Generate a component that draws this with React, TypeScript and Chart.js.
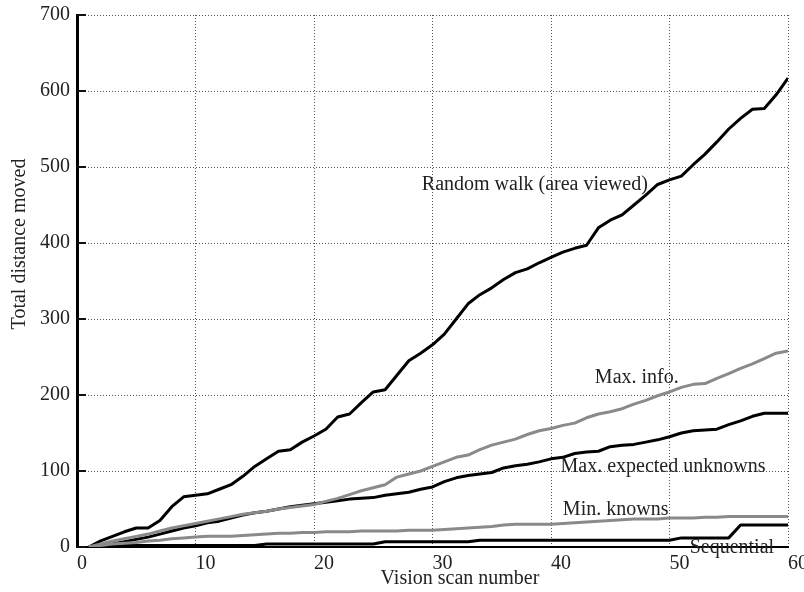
import React, { useEffect, useRef } from "react";
import { Chart, registerables } from "chart.js";

Chart.register(...registerables);

const scanNumbers = [
  1, 2, 3, 4, 5, 6, 7, 8, 9, 10, 11, 12, 13, 14, 15, 16, 17, 18, 19, 20,
  21, 22, 23, 24, 25, 26, 27, 28, 29, 30, 31, 32, 33, 34, 35, 36, 37, 38, 39, 40,
  41, 42, 43, 44, 45, 46, 47, 48, 49, 50, 51, 52, 53, 54, 55, 56, 57, 58, 59, 60,
];

const randomWalk = [
  0, 8, 14, 20, 25, 25, 35, 53, 66, 68,
  70, 76, 82, 93, 106, 116, 126, 128, 138, 146,
  155, 171, 175, 190, 204, 207, 226, 245, 255, 266,
  280, 300, 320, 332, 341, 352, 361, 366, 374, 381,
  388, 393, 397, 420, 430, 437, 450, 463, 477, 483,
  488, 503, 517, 533, 550, 564, 576, 577, 595, 617,
];

const maxInfo = [
  0, 4, 8, 11, 14, 17, 21, 25, 28, 31,
  34, 37, 40, 43, 45, 47, 50, 52, 54, 56,
  60, 64, 69, 74, 78, 82, 92, 96, 100, 106,
  112, 118, 121, 128, 134, 138, 142, 148, 153, 156,
  160, 163, 170, 175, 178, 182, 188, 193, 199, 204,
  210, 214, 215, 222, 228, 235, 241, 248, 255, 258,
];

const maxExpectedUnknowns = [
  0, 2, 4, 7, 10, 13, 17, 21, 25, 28,
  32, 34, 38, 42, 45, 47, 50, 53, 55, 57,
  59, 61, 63, 64, 65, 68, 70, 72, 76, 79,
  86, 91, 94, 96, 98, 104, 107, 109, 112, 116,
  118, 123, 125, 126, 132, 134, 135, 138, 141, 145,
  150, 153, 154, 155, 161, 166, 172, 176, 176, 176,
];

const minKnowns = [
  0, 2, 4, 5, 6, 8, 9, 11, 12, 13,
  14, 14, 14, 15, 16, 17, 18, 18, 19, 19,
  20, 20, 20, 21, 21, 21, 21, 22, 22, 22,
  23, 24, 25, 26, 27, 29, 30, 30, 30, 30,
  31, 32, 33, 34, 35, 36, 37, 37, 37, 38,
  38, 38, 39, 39, 40, 40, 40, 40, 40, 40,
];

const sequential = [
  0, 0, 1, 2, 2, 2, 2, 2, 2, 2,
  2, 2, 2, 2, 2, 4, 4, 4, 4, 4,
  4, 4, 4, 4, 4, 7, 7, 7, 7, 7,
  7, 7, 7, 9, 9, 9, 9, 9, 9, 9,
  9, 9, 9, 9, 9, 9, 9, 9, 9, 9,
  12, 12, 12, 12, 12, 29, 29, 29, 29, 29,
];

const xTicks = [0, 10, 20, 30, 40, 50, 60];
const yTicks = [0, 100, 200, 300, 400, 500, 600, 700];

const xTitle = "Vision scan number";
const yTitle = "Total distance moved";

const seriesLabels = [
  { text: "Random walk (area viewed)", x: 29.1, y: 477 },
  { text: "Max. info.", x: 43.7, y: 223 },
  { text: "Max. expected unknowns", x: 40.8, y: 106 },
  { text: "Min. knowns", x: 41.0, y: 49 },
  { text: "Sequential", x: 51.7, y: -1.5 },
];

const FONT = '"Liberation Serif", "Times New Roman", Times, serif';
const BLACK = "#000000";
const GRAY = "#8a8a8a";

const toPoints = (values: number[]) =>
  scanNumbers.map((x, i) => ({ x, y: values[i] }));

const overlayPlugin = {
  id: "overlay",
  afterDraw(chart: any) {
    const { ctx, chartArea } = chart;
    const xs = chart.scales.x;
    const ys = chart.scales.y;
    ctx.save();
    // inward tick marks on the y axis
    ctx.strokeStyle = "#111";
    ctx.lineWidth = 2;
    yTicks.forEach((v) => {
      const py = ys.getPixelForValue(v);
      ctx.beginPath();
      ctx.moveTo(chartArea.left, py);
      ctx.lineTo(chartArea.left + 9, py);
      ctx.stroke();
    });
    // series labels
    ctx.fillStyle = "#222";
    ctx.font = `20px ${FONT}`;
    ctx.textBaseline = "middle";
    ctx.textAlign = "left";
    seriesLabels.forEach((a) => {
      ctx.fillText(a.text, xs.getPixelForValue(a.x), ys.getPixelForValue(a.y));
    });
    // axis titles
    ctx.textAlign = "center";
    ctx.fillText(xTitle, 460, 579);
    ctx.translate(20, 244);
    ctx.rotate(-Math.PI / 2);
    ctx.fillText(yTitle, 0, 0);
    ctx.restore();
  },
};

export default function App() {
  const canvasRef = useRef<HTMLCanvasElement | null>(null);

  useEffect(() => {
    const canvas = canvasRef.current;
    if (!canvas) return;
    const lineStyle = (color: string) => ({
      borderColor: color,
      backgroundColor: color,
      borderWidth: 3,
      pointRadius: 0,
      tension: 0,
      fill: false,
      borderJoinStyle: "round" as const,
    });
    const chart = new Chart(canvas, {
      type: "line",
      data: {
        datasets: [
          { label: "Max. info.", data: toPoints(maxInfo), ...lineStyle(GRAY) },
          { label: "Min. knowns", data: toPoints(minKnowns), ...lineStyle(GRAY) },
          { label: "Random walk (area viewed)", data: toPoints(randomWalk), ...lineStyle(BLACK) },
          { label: "Max. expected unknowns", data: toPoints(maxExpectedUnknowns), ...lineStyle(BLACK) },
          { label: "Sequential", data: toPoints(sequential), ...lineStyle(BLACK) },
        ],
      },
      options: {
        responsive: false,
        animation: false,
        devicePixelRatio: 1,
        layout: { padding: { top: 15, right: 16, left: 0, bottom: 0 } },
        plugins: {
          legend: { display: false },
          tooltip: { enabled: false },
        },
        scales: {
          x: {
            type: "linear",
            min: 0,
            max: 60,
            afterBuildTicks: (s: any) => {
              s.ticks = xTicks.map((value) => ({ value }));
            },
            afterFit: (s: any) => {
              s.height = 45;
              s.paddingLeft = 0;
              s.paddingRight = 0;
            },
            ticks: {
              align: "start",
              font: { family: FONT, size: 20 },
              color: "#222",
              padding: 5,
              maxRotation: 0,
            },
            grid: { color: "#555", lineWidth: 1, drawTicks: false },
            border: { display: true, color: "#000", width: 2, dash: [1, 2] },
          },
          y: {
            type: "linear",
            min: 0,
            max: 700,
            afterBuildTicks: (s: any) => {
              s.ticks = yTicks.map((value) => ({ value }));
            },
            afterFit: (s: any) => {
              s.width = 77;
              s.paddingTop = 0;
              s.paddingBottom = 0;
            },
            ticks: {
              font: { family: FONT, size: 20 },
              color: "#222",
              padding: 7,
            },
            grid: { color: "#555", lineWidth: 1, drawTicks: false },
            border: { display: true, color: "#000", width: 3, dash: [1, 2] },
          },
        },
      },
      plugins: [overlayPlugin],
    });
    return () => chart.destroy();
  }, []);

  return (
    <div
      style={{
        position: "fixed",
        left: 0,
        top: 0,
        width: 804,
        height: 592,
        background: "#ffffff",
      }}
    >
      <canvas ref={canvasRef} width={804} height={592} style={{ display: "block" }} />
    </div>
  );
}
